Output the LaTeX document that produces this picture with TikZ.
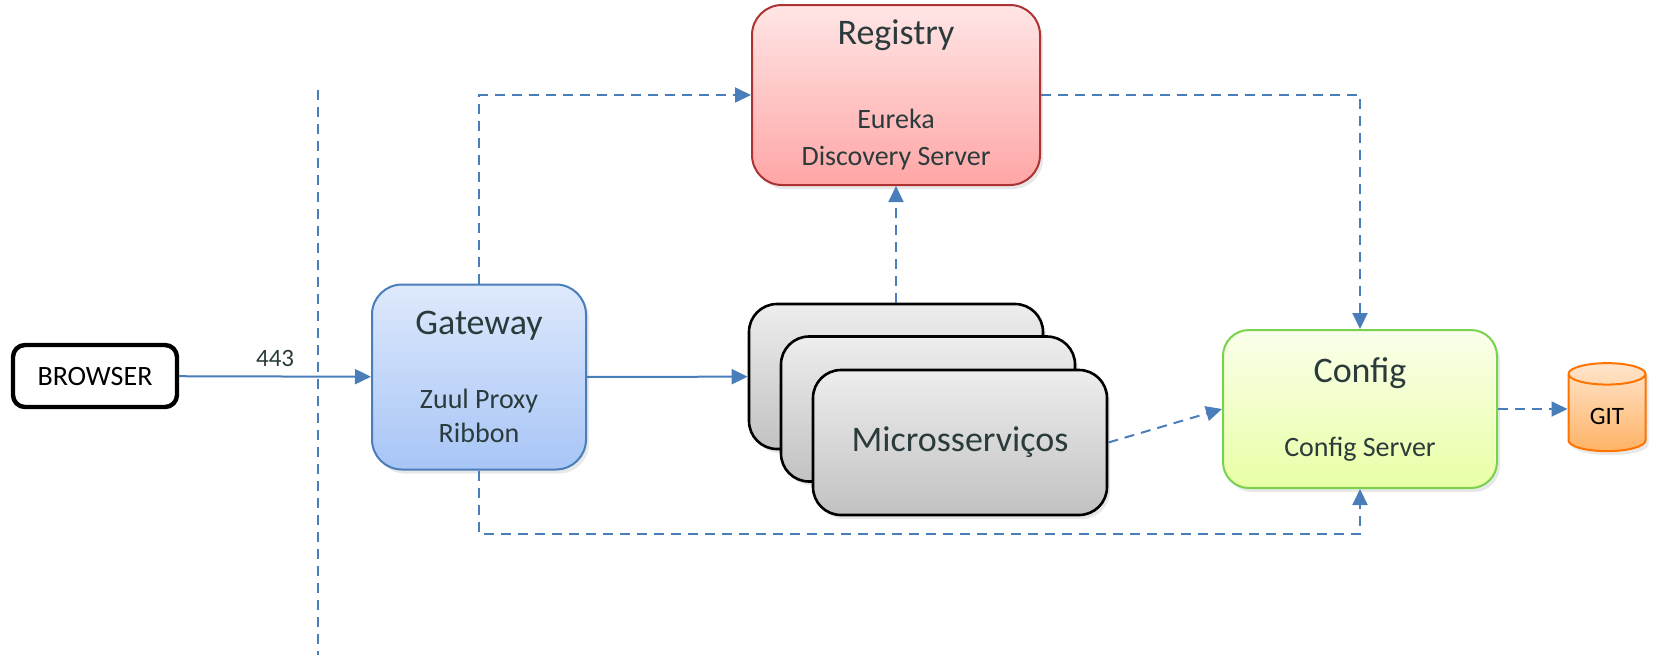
\documentclass[tikz,border=0pt]{standalone}
\usepackage{fontspec}
\setmainfont{Carlito}
\usepackage{tikz}
\usepackage{xcolor}
\usetikzlibrary{
    arrows.meta,
    shapes.geometric,
    shadows,
    positioning
}
\definecolor{linkblue}{HTML}{4A7EBB}
\definecolor{darktext}{HTML}{2B3B3B}
\definecolor{gwtop}{HTML}{DEE9FC}
\definecolor{gwbottom}{HTML}{A7C5F6}
\newcommand{\bigtitle}[1]{{\fontsize{18}{22}\selectfont #1}}

\begin{document}
\begin{tikzpicture}[x=0.5pt, y=-0.5pt,
        every node/.style={font=\fontsize{14}{17}\selectfont, text=darktext},
        service/.style={draw, line width=1pt, rounded corners=15pt, align=center, inner sep=0pt,
            drop shadow={opacity=0.18, shadow xshift=1.5pt, shadow yshift=-2pt}},
        stackcard/.style={service, draw=black, line width=1.3pt, rounded corners=14pt,
            top color=gray!14, bottom color=gray!48, minimum width=147pt, minimum height=72.5pt},
        flow/.style={linkblue, line width=1pt, -{Triangle[length=8pt, width=7.5pt]}},
        lookup/.style={flow, dash pattern=on 5pt off 3.5pt}
    ]
    \useasboundingbox (0, 0) rectangle (1656, 661);

    % edge of the network
    \draw[linkblue, line width=1pt, dash pattern=on 5pt off 3.5pt] (318, 90) -- (318, 655);

    \node[draw, line width=2.2pt, rounded corners=6pt, minimum width=82pt, minimum height=31pt,
        text=black] (browser) at (95, 376) {BROWSER};

    \node[service, draw=linkblue, top color=gwtop, bottom color=gwbottom,
        minimum width=107pt, minimum height=92.5pt] (gw) at (479, 377)
        {\bigtitle{Gateway}\\[20pt]Zuul Proxy\\Ribbon};

    \node[service, draw=red!60!black!80, top color=red!10!white, bottom color=red!35!white,
        minimum width=144pt, minimum height=90pt] (reg) at (896, 95)
        {\bigtitle{Registry}\\[25pt]Eureka\\[1.5pt]Discovery Server};

    \node[stackcard] (back) at (896, 376.5) {};
    \node[stackcard] (mid) at (928, 409) {};
    \node[stackcard] (front) at (960, 442.5) {\bigtitle{Microsserviços}};

    \node[service, draw=green!50!olive!70, top color=lime!8!white, bottom color=lime!35!white,
        rounded corners=13pt, minimum width=137pt, minimum height=79pt] (cfg) at (1360, 409)
        {\bigtitle{Config}\\[20pt]Config Server};

    \node[cylinder, shape border rotate=90, aspect=0.45, draw=orange!90!red, line width=1pt,
        top color=orange!20!white, bottom color=orange!60!white, text=black,
        font=\fontsize{12.5}{15}\selectfont, minimum width=38.5pt, minimum height=44pt,
        drop shadow={opacity=0.18, shadow xshift=1.5pt, shadow yshift=-2pt}] (git) at (1607, 416) {GIT};

    \draw[flow] (browser) -- node[above=1pt, font=\fontsize{12.5}{15}\selectfont]{443} (gw);
    \draw[flow] (gw) -- (back);

    \draw[lookup] (gw.north) |- (reg.west);
    \draw[lookup] (reg.east) -| (cfg.north);
    \draw[lookup] (back.north) -- (reg.south);
    \draw[lookup] (front.east) -- (cfg.west);
    \draw[lookup] (gw.south) -- ++(0, 63) -| (cfg.south);
    \draw[lookup] (cfg.east) -- (cfg.east -| git.west);
\end{tikzpicture}
\end{document}
